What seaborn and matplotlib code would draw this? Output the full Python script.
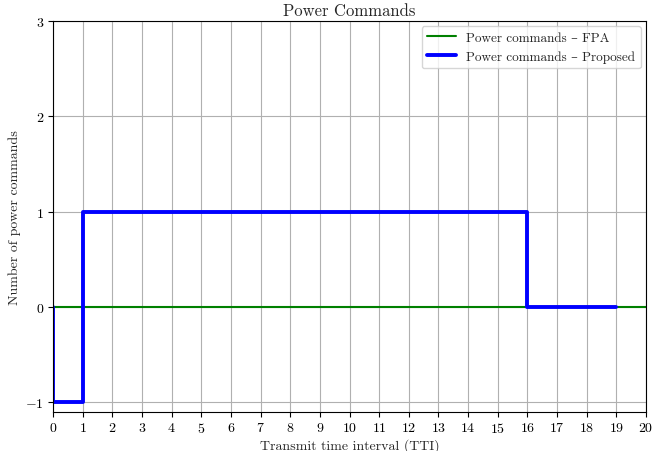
import matplotlib
matplotlib.use("Agg")
import matplotlib.pyplot as plt
import seaborn as sns
import pandas as pd

tti = list(range(0, 21))
fpa = [0] * 21
prop_tti = list(range(0, 20))
proposed = [0, -1] + [1] * 15 + [0, 0, 0]

sns.set_style("white")
plt.rcParams['font.family'] = ['cmr10', 'DejaVu Serif']
plt.rcParams['axes.formatter.use_mathtext'] = True
plt.rcParams['mathtext.fontset'] = 'cm'

fig = plt.figure(figsize=(6.52, 4.52), dpi=100)
ax = fig.add_axes([0.0813, 0.0863, 0.9095, 0.865])

df_fpa = pd.DataFrame({"x": tti, "y": fpa})
df_prop = pd.DataFrame({"x": prop_tti, "y": proposed})

sns.lineplot(data=df_fpa, x="x", y="y", ax=ax, color="green", linewidth=1.5,
             label="Power commands \u2013 FPA")
sns.lineplot(data=df_prop, x="x", y="y", ax=ax, color="blue", linewidth=2.8,
             drawstyle="steps-pre", label="Power commands \u2013 Proposed")

ax.set_xlim(0, 20)
ax.set_ylim(-1.1, 3)
ax.set_xticks(tti)
ax.set_yticks([-1, 0, 1, 2, 3])
ax.grid(True, color="#b0b0b0", linewidth=0.8)
ax.tick_params(axis="both", which="both", direction="out", length=3.5, width=0.8,
               pad=3, labelsize=10, left=True, bottom=True, colors="black")
for s in ax.spines.values():
    s.set_color("black")
    s.set_linewidth(0.8)
ax.set_xlabel("Transmit time interval (TTI)", fontsize=10, labelpad=2)
ax.set_ylabel("Number of power commands", fontsize=10, labelpad=3)
ax.set_title("Power Commands", fontsize=12, pad=4)
leg = ax.legend(loc="upper right", fontsize=9.5, frameon=True, fancybox=True,
                edgecolor="#cccccc", framealpha=0.8, handlelength=2.2,
                borderaxespad=0.4)

fig.savefig("out.png", dpi=100)
